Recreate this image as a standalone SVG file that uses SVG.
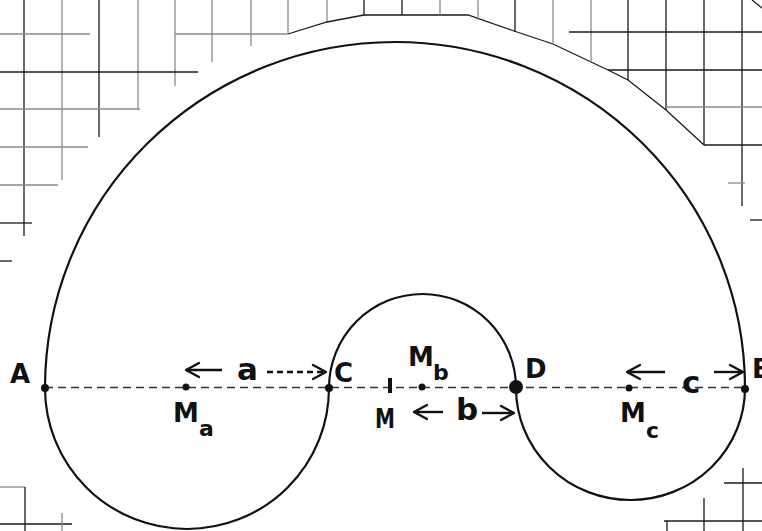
<svg xmlns="http://www.w3.org/2000/svg" width="762" height="531" viewBox="0 0 762 531">
<defs>
<style>
.g{stroke:#1a1a1a;stroke-width:1.3;fill:none}
.gl{stroke:#8a8a8a;stroke-width:1.3;fill:none}
.edge{stroke:#111;stroke-width:2.2;fill:none}
.base{stroke:#333;stroke-width:1.5;stroke-dasharray:8 5;fill:none}
.arr{stroke:#111;stroke-width:2.4;fill:none;marker-end:url(#head)}
.dot{fill:#111}
.lbl{font-family:"DejaVu Sans",Verdana,sans-serif;font-weight:bold;font-size:26px;fill:#111}
.sub{font-family:"DejaVu Sans",Verdana,sans-serif;font-weight:bold;font-size:22px;fill:#111}
.var{font-family:"DejaVu Sans",Verdana,sans-serif;font-weight:bold;font-size:31px;fill:#111}
</style>
<marker id="head" viewBox="-16 -10 18 20" refX="0" refY="0" markerWidth="18" markerHeight="20" markerUnits="userSpaceOnUse" orient="auto">
<path d="M-13,-7 L0,0 L-13,7" fill="none" stroke="#111" stroke-width="2.4" stroke-linecap="round" stroke-linejoin="round"/>
</marker>
</defs>
<rect width="762" height="531" fill="#fff"/>
<g id="grid">
<line class="g" x1="24" y1="0" x2="24" y2="236"/>
<line class="gl" x1="62" y1="0" x2="62" y2="180"/>
<line class="g" x1="99" y1="0" x2="99" y2="137"/>
<line class="gl" x1="138" y1="0" x2="138" y2="110"/>
<line class="gl" x1="175" y1="0" x2="175" y2="86"/>
<line class="gl" x1="212" y1="0" x2="212" y2="62"/>
<line class="gl" x1="251" y1="0" x2="251" y2="46"/>
<line class="gl" x1="288" y1="0" x2="288" y2="33"/>
<line class="gl" x1="327" y1="0" x2="327" y2="22"/>
<line class="g" x1="364" y1="0" x2="364" y2="15"/>
<line class="gl" x1="0" y1="34" x2="90" y2="34"/>
<line class="gl" x1="175" y1="34" x2="288" y2="34"/>
<line class="g" x1="0" y1="72" x2="198" y2="72"/>
<line class="gl" x1="0" y1="109" x2="140" y2="109"/>
<line class="gl" x1="0" y1="147" x2="88" y2="147"/>
<line class="gl" x1="0" y1="185" x2="58" y2="185"/>
<line class="g" x1="0" y1="223" x2="32" y2="223"/>
<line class="g" x1="0" y1="261" x2="12" y2="261"/>
<polyline class="g" stroke-width="1" points="288,34 327,22 364,15 468,15 514,31 553,44 608,70 628,80 666,110 704,145"/>
<line class="g" x1="402" y1="0" x2="402" y2="15"/>
<line class="gl" x1="440" y1="0" x2="440" y2="15"/>
<line class="gl" x1="478" y1="0" x2="478" y2="20"/>
<line class="g" x1="515" y1="0" x2="515" y2="32"/>
<line class="gl" x1="553" y1="0" x2="553" y2="44"/>
<line class="gl" x1="591" y1="0" x2="591" y2="62"/>
<line class="g" x1="628" y1="0" x2="628" y2="80"/>
<line class="g" x1="666" y1="0" x2="666" y2="110"/>
<line class="g" x1="704" y1="0" x2="704" y2="145"/>
<line class="g" x1="742" y1="0" x2="742" y2="206"/>
<line class="g" x1="569" y1="32" x2="762" y2="32"/>
<line class="g" x1="608" y1="70" x2="762" y2="70"/>
<line class="gl" x1="666" y1="107" x2="762" y2="107"/>
<line class="g" x1="704" y1="145" x2="762" y2="145"/>
<line class="gl" x1="728" y1="183" x2="745" y2="183"/>
<line class="g" x1="750" y1="220" x2="762" y2="220"/>
<line class="g" stroke-width="3" x1="752" y1="0" x2="762" y2="8"/>
<line class="gl" x1="0" y1="487" x2="25" y2="487"/>
<line class="g" x1="25" y1="487" x2="25" y2="531"/>
<line class="g" x1="0" y1="524" x2="72" y2="524"/>
<line class="gl" x1="62" y1="513" x2="62" y2="531"/>
<line class="g" x1="704" y1="498" x2="704" y2="531"/>
<line class="g" x1="743" y1="468" x2="743" y2="531"/>
<line class="g" x1="724" y1="483" x2="762" y2="483"/>
<line class="g" x1="664" y1="521" x2="762" y2="521"/>
<line class="g" x1="667" y1="521" x2="667" y2="531"/>
</g>
<g id="connectors">
<path class="edge" d="M45,388 A350,346 0 0 1 745,388"/>
<path class="edge" d="M45,388 A142,141 0 0 0 329,388"/>
<path class="edge" d="M329,388 A93.5,94 0 0 1 516,388"/>
<path class="edge" d="M516,388 A114.5,112 0 0 0 745,388"/>
<line class="base" x1="45" y1="387.5" x2="745" y2="387.5"/>
<line class="arr" x1="222" y1="370" x2="186" y2="370"/>
<line class="arr" stroke-dasharray="6 4" x1="267" y1="372" x2="326" y2="372"/>
<line class="arr" x1="443" y1="412" x2="414" y2="412"/>
<line class="arr" x1="482" y1="413" x2="514" y2="413"/>
<line class="arr" x1="665" y1="372" x2="627" y2="372"/>
<line class="arr" x1="714" y1="372" x2="743" y2="372"/>
<text class="var" x="237" y="380">a</text>
<text class="var" x="456" y="420">b</text>
<text class="var" x="682" y="393">c</text>
</g>
<g id="A"><circle class="dot" cx="45" cy="388" r="4"/><text class="lbl" x="10" y="383">A</text></g>
<g id="C"><circle class="dot" cx="329" cy="388" r="4"/><text class="lbl" x="334" y="382">C</text></g>
<g id="D"><circle class="dot" cx="516" cy="387" r="7"/><text class="lbl" x="525" y="378">D</text></g>
<g id="B"><circle class="dot" cx="745" cy="389" r="4"/><text class="lbl" x="752" y="378">B</text></g>
<g id="Ma"><circle class="dot" cx="186" cy="387" r="3.5"/><text class="lbl" x="173" y="422">M</text><text class="sub" x="199" y="436">a</text></g>
<g id="Mb"><circle class="dot" cx="422" cy="387" r="3.5"/><text class="lbl" x="408" y="366">M</text><text class="sub" x="433" y="380">b</text></g>
<g id="Mc"><circle class="dot" cx="629" cy="388" r="3.5"/><text class="lbl" x="620" y="422">M</text><text class="sub" x="646" y="438">c</text></g>
<g id="M"><line stroke="#111" stroke-width="4" x1="390" y1="378" x2="390" y2="393"/><text class="lbl" font-weight="normal" x="375" y="428" textLength="20" lengthAdjust="spacingAndGlyphs">M</text></g>
</svg>
